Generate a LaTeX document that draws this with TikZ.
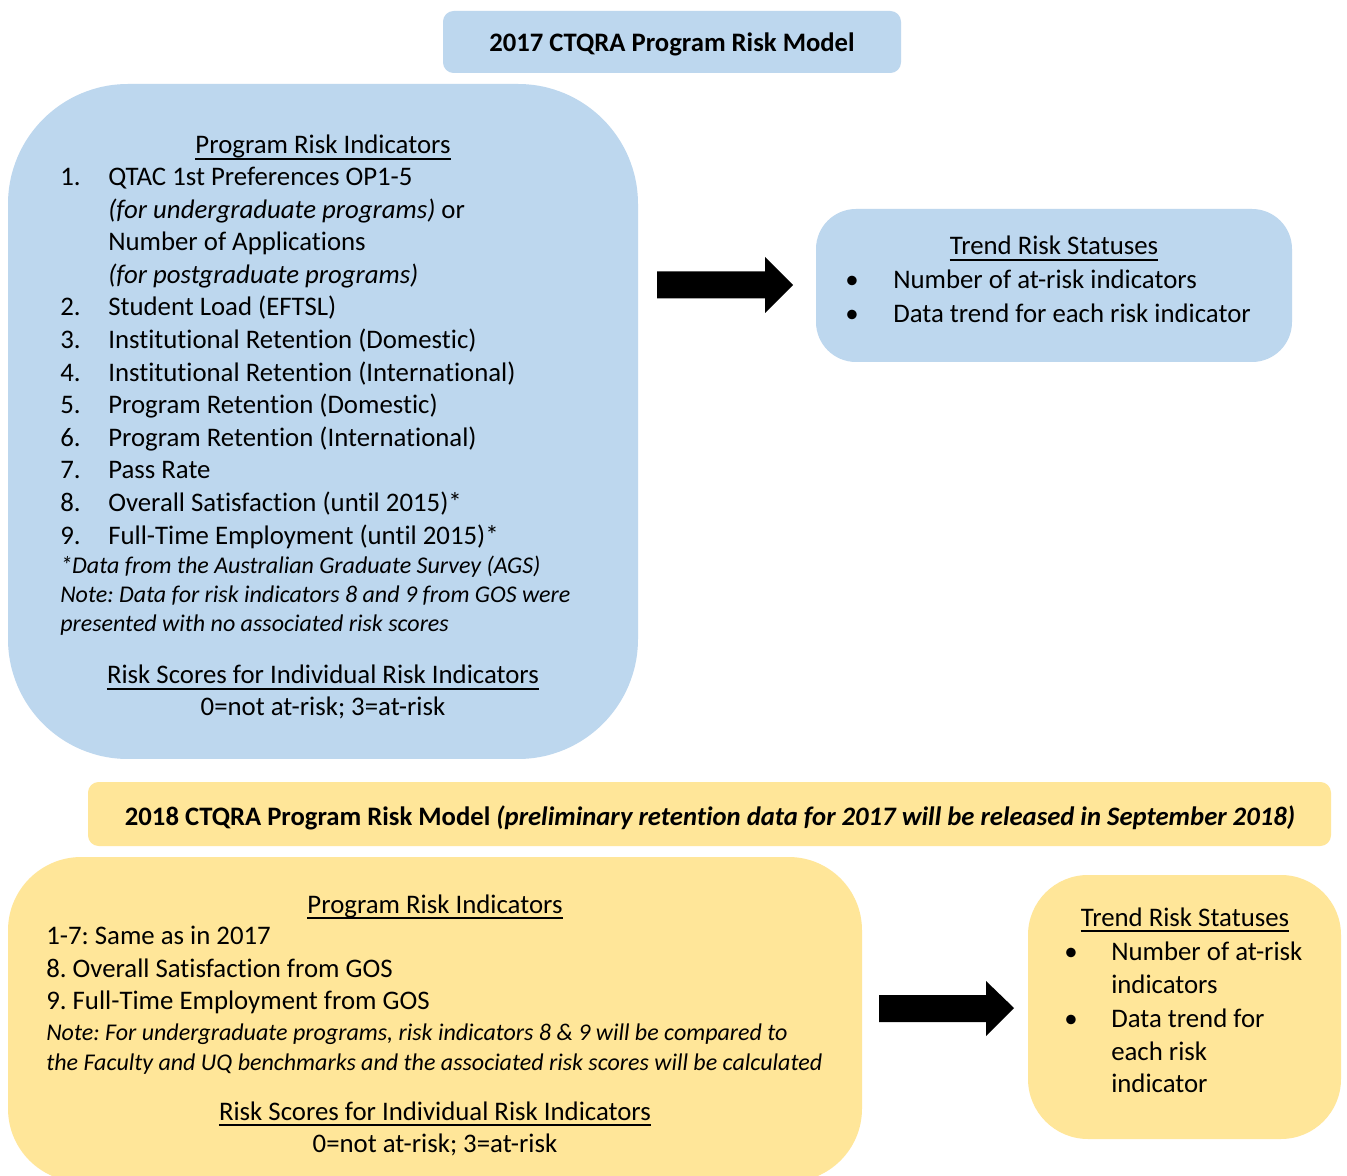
\documentclass[tikz,border=0pt]{standalone}
\usepackage{fontspec}
\setmainfont[Ligatures=NoCommon]{Carlito}
\frenchspacing
\usetikzlibrary{calc}
\definecolor{bluefill}{HTML}{BDD7EE}
\definecolor{yellowfill}{HTML}{FFE699}
\tikzset{
  txt/.style={inner sep=0pt, anchor=base west, yshift=-1.5pt, font=\fontsize{20.1}{22}\selectfont},
  ctxt/.style={inner sep=0pt, anchor=base, yshift=-1.5pt, font=\fontsize{20.1}{22}\selectfont},
  note/.style={inner sep=0pt, anchor=base west, yshift=-1.5pt, font=\fontsize{18}{20}\selectfont\itshape},
  ttl/.style={inner sep=0pt, anchor=base, yshift=-1.5pt, font=\fontsize{20}{22}\selectfont\bfseries},
  uline/.style={line width=1.4pt},
  bluebox/.style={fill=bluefill, draw=none},
  yellowbox/.style={fill=yellowfill, draw=none},
  blockarrow/.style={fill=black},
}
\newcommand{\ulnode}[1]{\draw[uline] ($(#1.base west)+(0,5)$) -- ($(#1.base east)+(0,5)$);}
\begin{document}
\begin{tikzpicture}[x=0.75pt,y=-0.75pt]
\clip (0,0) rectangle (1347,1176);
\fill[white] (0,0) rectangle (1347,1176);
% ===== 2017 =====
\fill[bluebox, rounded corners=8pt] (443,11) rectangle (901,73);
\node[ttl] (t17) at (672,50) {2017 CTQRA Program Risk Model};

\fill[bluebox, rounded corners=90pt] (8,84) rectangle (638,759);
\node[ctxt] (pri17) at (323,152) {Program Risk Indicators};
\ulnode{pri17}
\foreach \n/\y/\t in {1./184/{QTAC 1st Preferences OP1-5},
  2./314/{Student Load (EFTSL)},
  3./347/{Institutional Retention (Domestic)},
  4./380/{Institutional Retention (International)},
  5./412/{Program Retention (Domestic)},
  6./445/{Program Retention (International)},
  7./477/{Pass Rate},
  8./510/{Overall Satisfaction (until 2015)*},
  9./543/{Full-Time Employment (until 2015)*}}{
  \node[txt] (n\y) at (60,\y) {\n};
  \node[txt] (l\y) at (108,\y) {\t};
}
\node[txt] (l217) at (108,217) {\textit{(for undergraduate programs)} or};
\node[txt] (l249) at (108,249) {Number of Applications};
\node[txt] (l282) at (108,282) {\textit{(for postgraduate programs)}};
\node[note] (nt1) at (60,572) {*Data from the Australian Graduate Survey (AGS)};
\node[note] (nt2) at (60,601) {Note: Data for risk indicators 8 and 9 from GOS were};
\node[note] (nt3) at (60,630) {presented with no associated risk scores};
\node[ctxt] (rs17) at (323,682) {Risk Scores for Individual Risk Indicators};
\ulnode{rs17}
\node[ctxt] (sc17) at (323,714) {0=not at-risk; 3=at-risk};

% arrow 1
\fill[blockarrow] (657,271.5) -- (765,271.5) -- (765,257) -- (793,285) -- (765,313) -- (765,298.5) -- (657,298.5) -- cycle;

\fill[bluebox, rounded corners=30pt] (816,209) rectangle (1292,362);
\node[ctxt] (trs17) at (1054,253) {Trend Risk Statuses};
\ulnode{trs17}
\node[txt] (b1) at (845,287) {\textbullet};
\node[txt] (tb1) at (893,287) {Number of at-risk indicators};
\node[txt] (b2) at (845,321) {\textbullet};
\node[txt] (tb2) at (893,321) {Data trend for each risk indicator};

% ===== 2018 =====
\fill[yellowbox, rounded corners=8pt] (88,782) rectangle (1331,846);
\node[ttl] (t18) at (710,823) {2018 CTQRA Program Risk Model \textit{(preliminary retention data for 2017 will be released in September 2018)}};

\fill[yellowbox, rounded corners=55pt] (8,857) rectangle (862,1182);
\node[ctxt] (pri18) at (435,911) {Program Risk Indicators};
\ulnode{pri18}
\node[txt] (y1) at (46,942) {1-7: Same as in 2017};
\node[txt] (y2) at (46,975) {8. Overall Satisfaction from GOS};
\node[txt] (y3) at (46,1007) {9. Full-Time Employment from GOS};
\node[note] (yn1) at (46,1038) {Note: For undergraduate programs, risk indicators 8 \& 9 will be compared to};
\node[note] (yn2) at (46,1068) {the Faculty and UQ benchmarks and the associated risk scores will be calculated};
\node[ctxt] (rs18) at (435,1118) {Risk Scores for Individual Risk Indicators};
\ulnode{rs18}
\node[ctxt] (sc18) at (435,1150) {0=not at-risk; 3=at-risk};

% arrow 2
\fill[blockarrow] (879,995) -- (986,995) -- (986,981) -- (1014,1008) -- (986,1036) -- (986,1022) -- (879,1022) -- cycle;

\fill[yellowbox, rounded corners=45pt] (1028,875) rectangle (1341,1139);
\node[ctxt] (trs18) at (1185,924) {Trend Risk Statuses};
\ulnode{trs18}
\node[txt] (c1) at (1064,958) {\textbullet};
\node[txt] (tc1) at (1111,958) {Number of at-risk};
\node[txt] (tc2) at (1111,991) {indicators};
\node[txt] (c2) at (1064,1025) {\textbullet};
\node[txt] (tc3) at (1111,1025) {Data trend for};
\node[txt] (tc4) at (1111,1058) {each risk};
\node[txt] (tc5) at (1111,1090) {indicator};
\end{tikzpicture}
\end{document}
